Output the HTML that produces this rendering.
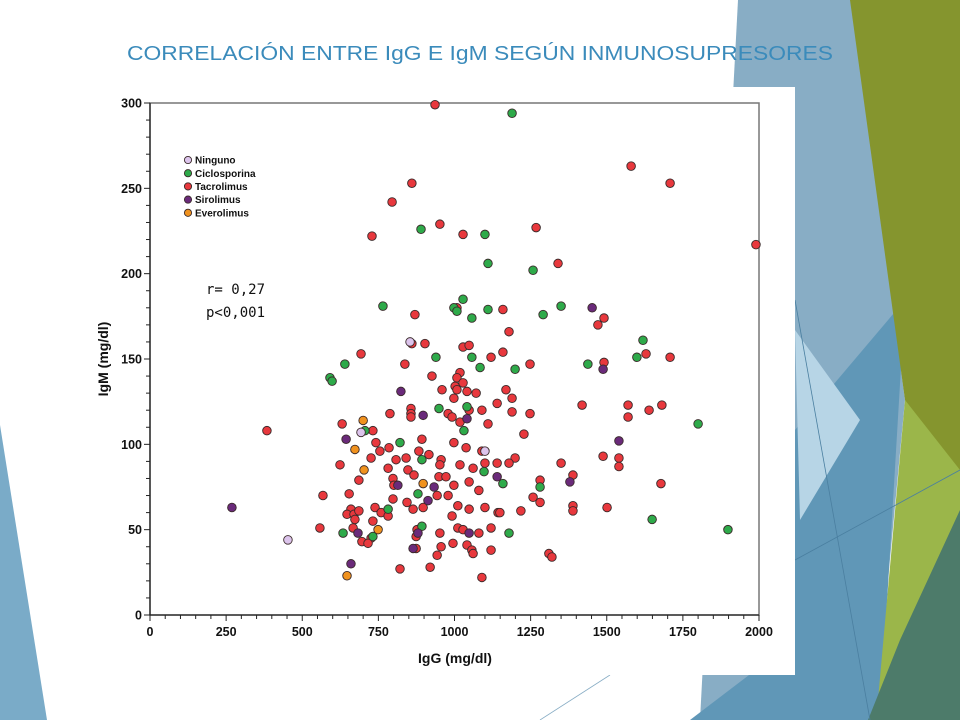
<!DOCTYPE html>
<html><head><meta charset="utf-8"><style>
html,body{margin:0;padding:0;width:960px;height:720px;overflow:hidden;background:#fff}
svg{display:block}
</style></head><body>
<svg id="slide" width="960" height="720" viewBox="0 0 960 720" xmlns="http://www.w3.org/2000/svg">
<g>
<polygon points="0,425 47,720 0,720" fill="#7aabc8"/>
<polygon points="738,0 852,0 905,400 880,665 760,720 700,720" fill="#88adc5"/>
<polygon points="795,430 905,300 880,720 690,720 795,640" fill="#6097b7"/>
<polygon points="795,330 860,420 800,520" fill="#b7d5e6"/>
<polygon points="850,0 960,0 960,540 905,400" fill="#85952e"/>
<polygon points="905,400 960,470 960,560 878,700" fill="#9bb64a"/>
<polygon points="960,510 960,720 868,720 900,640" fill="#4d7b6a"/>
<line x1="795" y1="300" x2="870" y2="720" stroke="#4a7fa0" stroke-width="0.8"/>
<line x1="795" y1="560" x2="960" y2="470" stroke="#4a7fa0" stroke-width="0.8"/>
<line x1="540" y1="720" x2="610" y2="675" stroke="#88adc5" stroke-width="0.8"/>
</g>
<rect x="85" y="87" width="710" height="588" fill="#fff"/>
<text x="480" y="60" text-anchor="middle" textLength="706" lengthAdjust="spacingAndGlyphs" font-family="Liberation Sans, sans-serif" font-size="20" fill="#3b8bbb">CORRELACIÓN ENTRE IgG E IgM SEGÚN INMUNOSUPRESORES</text>
<g id="chart"></g>
</svg>
<script>
const xTicks = [0,250,500,750,1000,1250,1500,1750,2000];
const yTicks = [0,50,100,150,200,250,300];
const seriesNames = ['Ninguno','Ciclosporina','Tacrolimus','Sirolimus','Everolimus'];
const seriesColors = ['#dcc4ec','#2eaa4a','#e8383d','#6a2a7a','#f0921e'];
const ningunoIgG = [854,693,1100,453];
const ningunoIgM = [160,107,96,44];
const cicloIgG = [1189,890,1100,1110,1258,765,1028,998,1008,1110,1057,1291,1350,1619,1599,939,1057,1199,1438,1084,640,591,598,949,1041,1031,706,821,893,1097,1159,1281,1800,880,782,893,634,732,1179,1649,1898];
const cicloIgM = [294,226,223,206,202,181,185,180,178,179,174,176,181,161,151,151,151,144,147,145,147,139,137,121,122,108,108,101,91,84,77,75,112,71,62,52,48,46,48,56,50];
const tacroIgG = [936,1580,1708,1990,860,795,952,729,1028,1268,1340,1008,1159,1491,1471,1179,1028,1048,1629,1708,1120,870,860,903,693,837,926,1018,1008,1028,1002,1008,1041,1071,959,998,1140,788,857,857,857,979,992,1048,1018,1090,1110,631,732,384,742,893,998,755,785,726,808,841,883,916,956,952,1038,1090,624,782,847,867,1018,1061,1140,686,798,801,949,972,998,1048,1080,568,654,943,979,798,844,660,647,670,686,673,739,759,782,864,897,1011,1048,1100,992,1143,558,667,732,726,696,716,877,874,952,1011,1028,1080,1120,874,956,995,1041,1057,1061,1120,943,821,920,1090,1159,1248,1491,1169,1189,1189,1248,1419,1570,1570,1639,1681,1228,1488,1540,1540,1350,1199,1179,1100,1281,1389,1678,1258,1281,1389,1389,1501,1149,1218,1310,1320];
const tacroIgM = [299,263,253,217,253,242,229,222,223,227,206,180,179,174,170,166,157,158,153,151,151,176,159,159,153,147,140,142,139,136,134,132,131,130,132,127,124,118,121,118,116,118,116,120,113,120,112,112,108,108,101,103,101,96,98,92,91,92,96,94,91,88,98,96,88,86,85,82,88,86,89,79,80,76,81,81,76,78,73,70,71,70,70,68,66,62,59,59,61,56,63,60,58,62,63,64,62,63,58,60,51,51,55,45,43,42,50,46,48,51,50,48,51,39,40,42,41,38,36,38,35,27,28,22,154,147,148,132,127,119,118,123,123,116,120,123,106,93,92,87,89,92,89,89,79,82,77,69,66,64,61,63,60,61,36,34];
const siroIgG = [1452,1488,824,897,1041,644,814,933,1140,1379,1540,913,683,880,1048,864,660,269];
const siroIgM = [180,144,131,117,115,103,76,75,81,78,102,67,48,48,48,39,30,63];
const everoIgG = [700,673,703,897,749,647];
const everoIgM = [114,97,85,77,50,23];

const NS='http://www.w3.org/2000/svg';
const chart=document.getElementById('chart');
const X0=150,X1=759,Y0=615,Y1=103;
const xScale=v=>X0+(v/2000)*(X1-X0);
const yScale=v=>Y0-(v/300)*(Y0-Y1);
function mk(tag,attrs){const e=document.createElementNS(NS,tag);for(const k in attrs)e.setAttribute(k,attrs[k]);chart.appendChild(e);return e;}

const frame=mk('rect',{x:X0,y:Y1,width:X1-X0,height:Y0-Y1,fill:'none',stroke:'#777','stroke-width':1.5});


const ya=mk('line',{x1:X0,y1:Y1,x2:X0,y2:Y0,stroke:'#222','stroke-width':1.3});


const xa=mk('line',{x1:X0,y1:Y0,x2:X1,y2:Y0,stroke:'#222','stroke-width':1.3});


for(let v=0;v<=300;v+=10){const major=v%50===0;const t=mk('line',{x1:X0-(major?6:4),y1:yScale(v),x2:X0,y2:yScale(v),stroke:'#222','stroke-width':1});

}
for(let v=0;v<=2000;v+=50){const major=v%250===0;const t=mk('line',{x1:xScale(v),y1:Y0,x2:xScale(v),y2:Y0+(major?6:4),stroke:'#222','stroke-width':1});

}
yTicks.forEach(v=>{const t=mk('text',{x:X0-8,y:yScale(v)+4.5,'text-anchor':'end','font-family':'Liberation Sans, sans-serif','font-size':12.5,'font-weight':'bold',fill:'#111'});t.textContent=v;

});
xTicks.forEach(v=>{const t=mk('text',{x:xScale(v),y:Y0+21,'text-anchor':'middle','font-family':'Liberation Sans, sans-serif','font-size':12.5,'font-weight':'bold',fill:'#111'});t.textContent=v;

});
const xt=mk('text',{x:455,y:663,'text-anchor':'middle','font-family':'Liberation Sans, sans-serif','font-size':14,'font-weight':'bold',fill:'#111'});xt.textContent='IgG (mg/dl)';


const yt=mk('text',{x:0,y:0,transform:'translate(108,359) rotate(-90)','text-anchor':'middle','font-family':'Liberation Sans, sans-serif','font-size':14,'font-weight':'bold',fill:'#111'});yt.textContent='IgM (mg/dl)';



const groups=[[ningunoIgG,ningunoIgM],[cicloIgG,cicloIgM],[tacroIgG,tacroIgM],[siroIgG,siroIgM],[everoIgG,everoIgM]];
const order=[2,1,3,4,0];
order.forEach(si=>{const [xs,ys]=groups[si];xs.forEach((xv,i)=>{const c=mk('circle',{cx:xScale(xv),cy:yScale(Math.min(ys[i],300)),r:4.3,fill:seriesColors[si],stroke:'#3a2a2a','stroke-width':0.9});

});});

seriesNames.forEach((n,i)=>{const y=160+i*13.2;const c=mk('circle',{cx:188,cy:y,r:3.6,fill:seriesColors[i],stroke:'#3a2a2a','stroke-width':0.9});


const t=mk('text',{x:195,y:y+3.6,'font-family':'Liberation Sans, sans-serif','font-size':10,'font-weight':'bold',fill:'#111'});t.textContent=n;

});
const r1=mk('text',{x:206,y:294,'font-family':'DejaVu Sans Mono, monospace','font-size':14,fill:'#111'});r1.textContent='r= 0,27';


const r2=mk('text',{x:206,y:317,'font-family':'DejaVu Sans Mono, monospace','font-size':14,fill:'#111'});r2.textContent='p<0,001';


</script>
</body></html>
